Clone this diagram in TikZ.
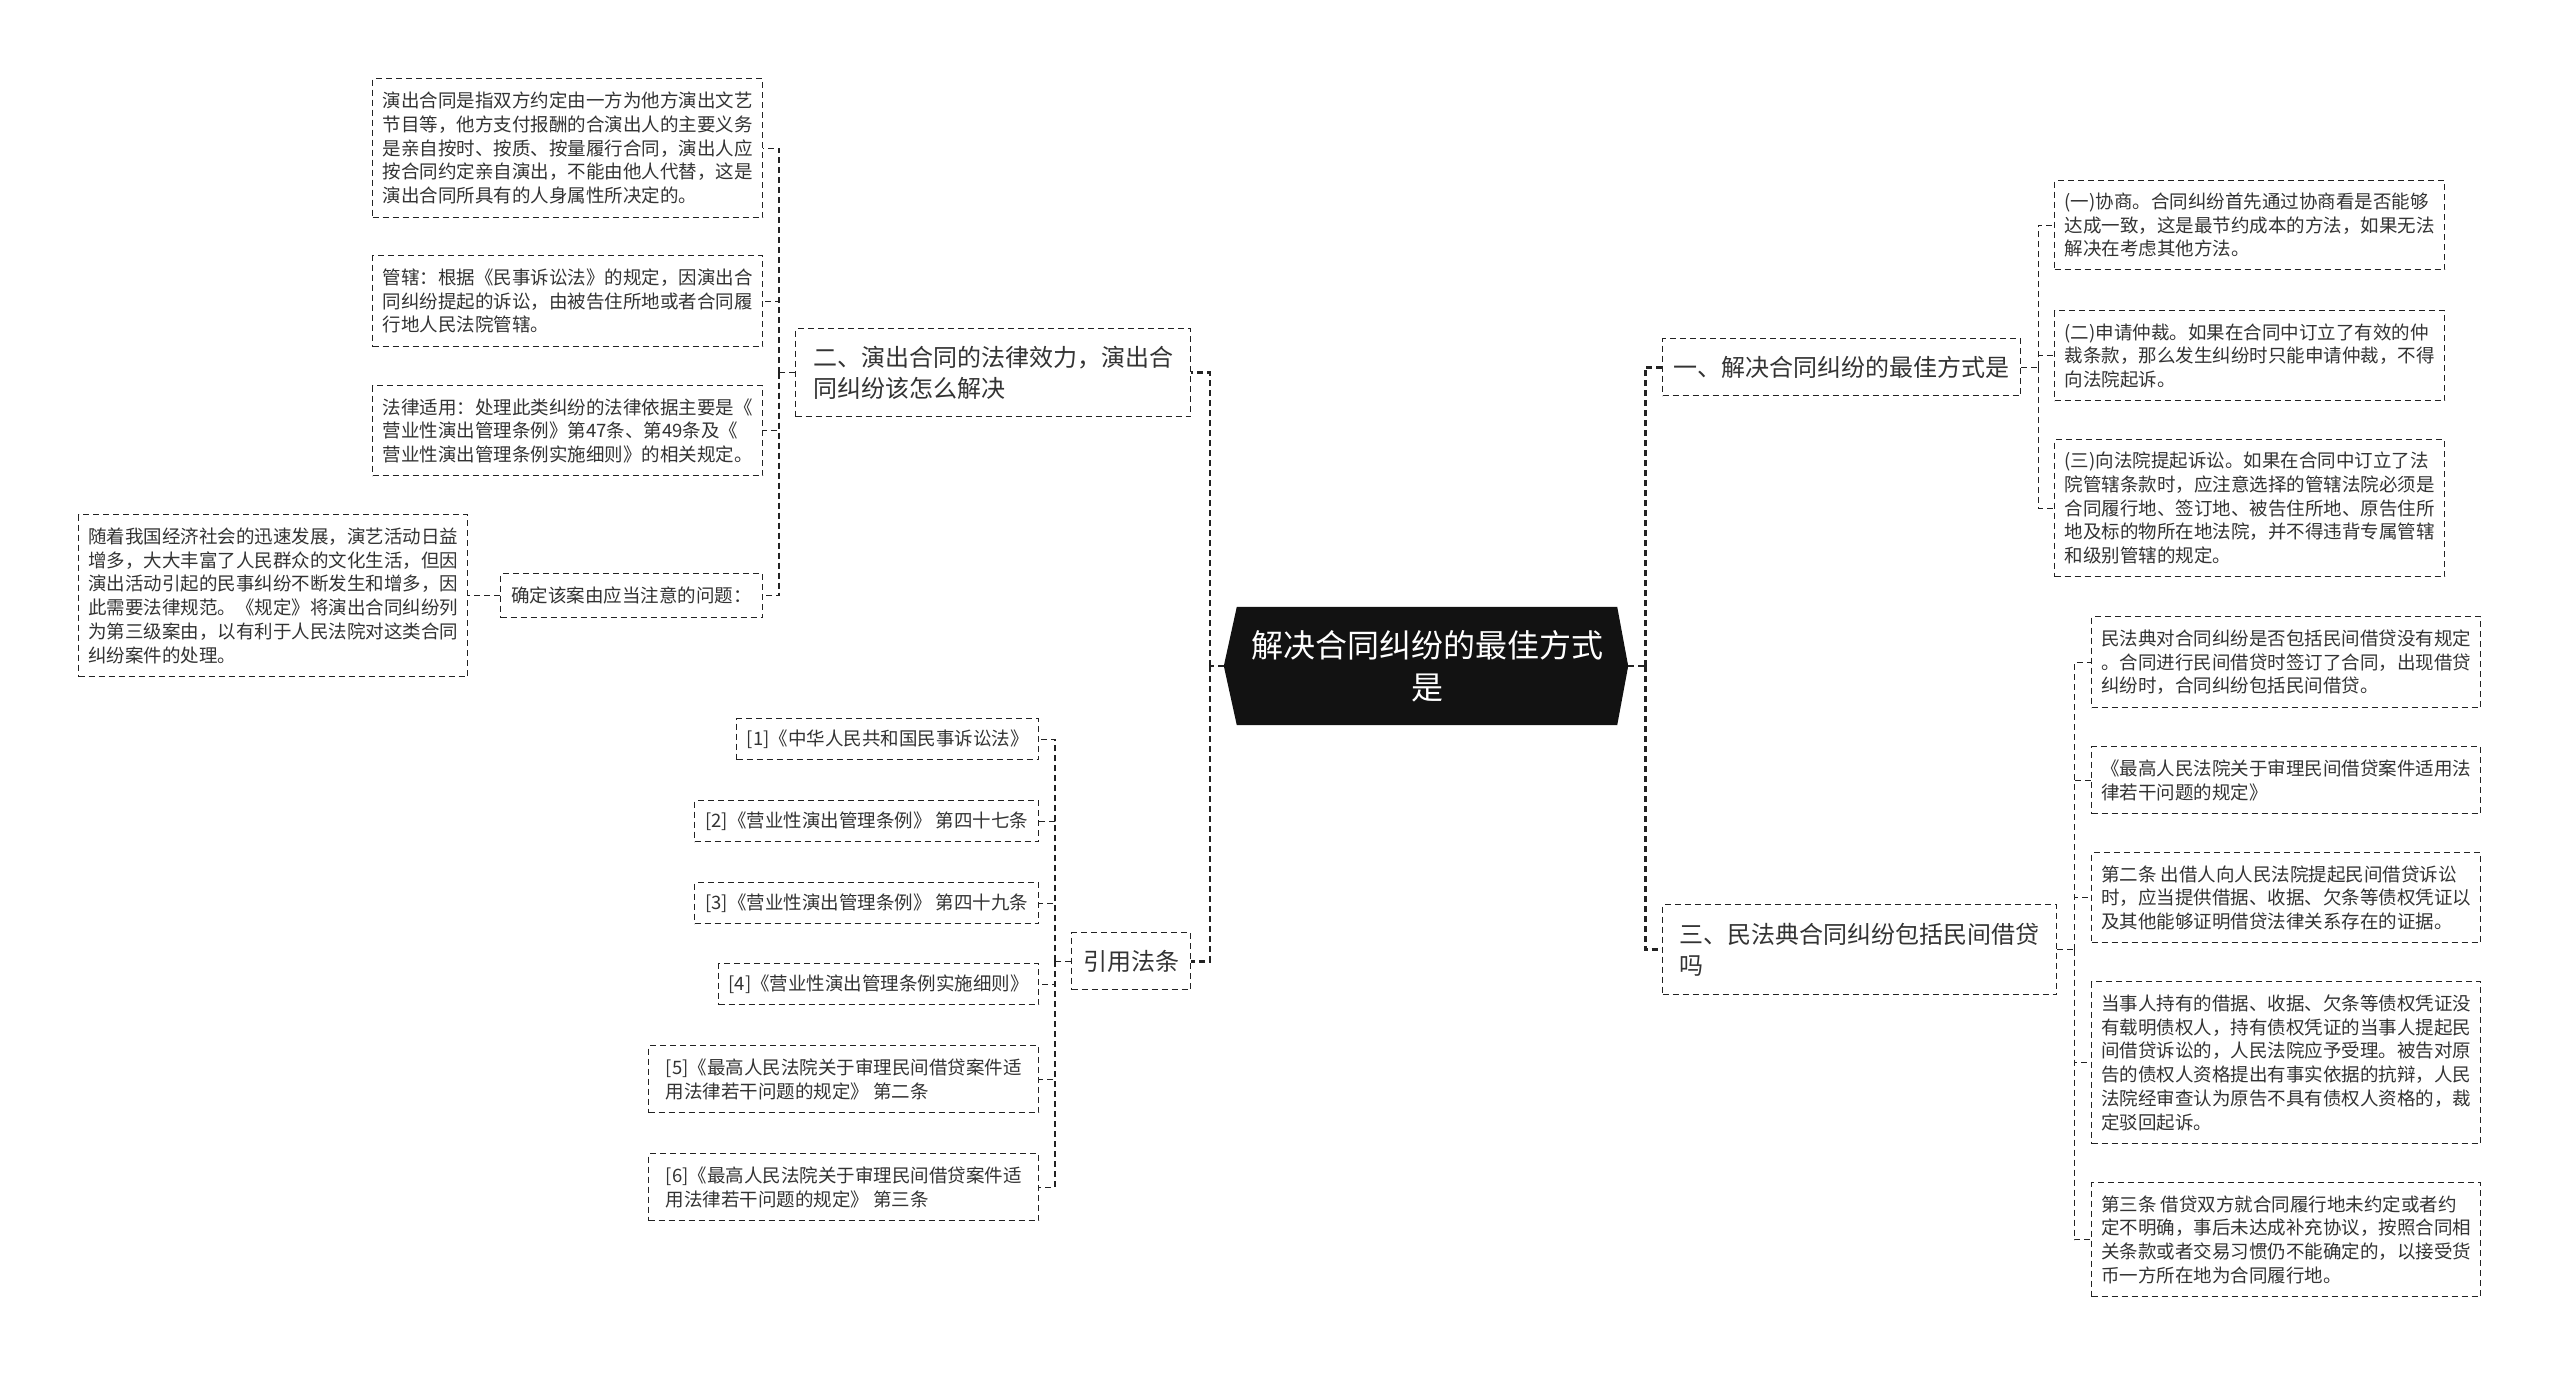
\documentclass[tikz,border=0pt]{standalone}
\usepackage{fontspec}
\setmainfont{Noto Sans CJK SC}
\usetikzlibrary{calc,backgrounds}
\definecolor{txt}{HTML}{333333}
\definecolor{ln}{HTML}{222222}
\begin{document}
\begin{tikzpicture}[x=1pt,y=-1pt,
  bx/.style={draw=ln, line width=1.4pt, dash pattern=on 6pt off 4pt, anchor=north west, inner sep=0pt, align=left, text=txt},
  leaf/.style={bx, font=\fontsize{18.5}{23.7}\selectfont},
  lvl/.style={bx, font=\fontsize{24}{31}\selectfont},
  conn/.style={draw=ln, line width=1.4pt, dash pattern=on 6pt off 4pt},
  spine/.style={draw=ln, line width=2.6pt, dash pattern=on 6pt off 4pt}]
\useasboundingbox (0,0) rectangle (2560,1377);

% centre
\node[font=\fontsize{32}{42}\selectfont, text=white, align=center, minimum width=380pt, minimum height=118pt, inner sep=0pt] (c) at (1427,666) {解决合同纠纷的最佳方式\\是};
\coordinate (cW) at ($(c.west)+(-13,0)$);
\coordinate (cE) at ($(c.east)+(11,0)$);
\begin{scope}[on background layer]
\fill[white] (0,0) rectangle (2560,1377);
\fill[black!93] (c.north west) -- (c.north east) -- (cE) -- (c.south east) -- (c.south west) -- (cW) -- cycle;
\end{scope}

% left branch 二
\node[lvl, minimum width=395pt, minimum height=88pt] (b) at (795,328) {二、演出合同的法律效力，演出合\\同纠纷该怎么解决};
\node[leaf, minimum width=390pt, minimum height=139pt] (a1) at (372,78) {演出合同是指双方约定由一方为他方演出文艺\\节目等，他方支付报酬的合演出人的主要义务\\是亲自按时、按质、按量履行合同，演出人应\\按合同约定亲自演出，不能由他人代替，这是\\演出合同所具有的人身属性所决定的。};
\node[leaf, minimum width=390pt, minimum height=91pt] (a2) at (372,255) {管辖：根据《民事诉讼法》的规定，因演出合\\同纠纷提起的诉讼，由被告住所地或者合同履\\行地人民法院管辖。};
\node[leaf, minimum width=390pt, minimum height=90pt] (a3) at (372,385) {法律适用：处理此类纠纷的法律依据主要是《\\营业性演出管理条例》第47条、第49条及《\\营业性演出管理条例实施细则》的相关规定。};
\node[leaf, minimum width=262pt, minimum height=44pt] (a4) at (500,573) {确定该案由应当注意的问题：};
\node[leaf, minimum width=389pt, minimum height=162pt] (a5) at (78,514) {随着我国经济社会的迅速发展，演艺活动日益\\增多，大大丰富了人民群众的文化生活，但因\\演出活动引起的民事纠纷不断发生和增多，因\\此需要法律规范。《规定》将演出合同纠纷列\\为第三级案由，以有利于人民法院对这类合同\\纠纷案件的处理。};

% left branch 引用法条
\node[lvl, minimum width=119pt, minimum height=57pt, align=center] (cite) at (1071,932) {引用法条};
\node[leaf, minimum width=302pt, minimum height=41pt] (c1) at (736,718) {[1]《中华人民共和国民事诉讼法》};
\node[leaf, minimum width=344pt, minimum height=41pt] (c2) at (694,800) {[2]《营业性演出管理条例》 第四十七条};
\node[leaf, minimum width=344pt, minimum height=41pt] (c3) at (694,882) {[3]《营业性演出管理条例》 第四十九条};
\node[leaf, minimum width=320pt, minimum height=41pt] (c4) at (718,963) {[4]《营业性演出管理条例实施细则》};
\node[leaf, minimum width=390pt, minimum height=67pt] (c5) at (648,1045) {[5]《最高人民法院关于审理民间借贷案件适\\用法律若干问题的规定》 第二条};
\node[leaf, minimum width=390pt, minimum height=67pt] (c6) at (648,1153) {[6]《最高人民法院关于审理民间借贷案件适\\用法律若干问题的规定》 第三条};

% right branch 一
\node[lvl, minimum width=358pt, minimum height=57pt] (one) at (1662,338) {一、解决合同纠纷的最佳方式是};
\node[leaf, minimum width=390pt, minimum height=89pt] (r1) at (2054,180) {(一)协商。合同纠纷首先通过协商看是否能够\\达成一致，这是最节约成本的方法，如果无法\\解决在考虑其他方法。};
\node[leaf, minimum width=390pt, minimum height=90pt] (r2) at (2054,310) {(二)申请仲裁。如果在合同中订立了有效的仲\\裁条款，那么发生纠纷时只能申请仲裁，不得\\向法院起诉。};
\node[leaf, minimum width=390pt, minimum height=137pt] (r3) at (2054,439) {(三)向法院提起诉讼。如果在合同中订立了法\\院管辖条款时，应注意选择的管辖法院必须是\\合同履行地、签订地、被告住所地、原告住所\\地及标的物所在地法院，并不得违背专属管辖\\和级别管辖的规定。};

% right branch 三
\node[lvl, minimum width=394pt, minimum height=90pt] (three) at (1662,904) {三、民法典合同纠纷包括民间借贷\\吗};
\node[leaf, minimum width=389pt, minimum height=91pt] (s1) at (2091,616) {民法典对合同纠纷是否包括民间借贷没有规定\\。合同进行民间借贷时签订了合同，出现借贷\\纠纷时，合同纠纷包括民间借贷。};
\node[leaf, minimum width=389pt, minimum height=67pt] (s2) at (2091,746) {《最高人民法院关于审理民间借贷案件适用法\\律若干问题的规定》};
\node[leaf, minimum width=389pt, minimum height=90pt] (s3) at (2091,852) {第二条 出借人向人民法院提起民间借贷诉讼\\时，应当提供借据、收据、欠条等债权凭证以\\及其他能够证明借贷法律关系存在的证据。};
\node[leaf, minimum width=389pt, minimum height=162pt] (s4) at (2091,981) {当事人持有的借据、收据、欠条等债权凭证没\\有载明债权人，持有债权凭证的当事人提起民\\间借贷诉讼的，人民法院应予受理。被告对原\\告的债权人资格提出有事实依据的抗辩，人民\\法院经审查认为原告不具有债权人资格的，裁\\定驳回起诉。};
\node[leaf, minimum width=389pt, minimum height=114pt] (s5) at (2091,1182) {第三条 借贷双方就合同履行地未约定或者约\\定不明确，事后未达成补充协议，按照合同相\\关条款或者交易习惯仍不能确定的，以接受货\\币一方所在地为合同履行地。};

% main spines
\coordinate (lj) at ($(cW)+(-14,0)$);
\coordinate (rj) at ($(cE)+(17,0)$);
\draw[spine] (cW) -- (lj);
\draw[spine] (lj) |- (b.east);
\draw[spine] (lj) |- (cite.east);
\draw[spine] (cE) -- (rj);
\draw[spine] (rj) |- (one.west);
\draw[spine] (rj) |- (three.west);

% sub connectors
\coordinate (bj) at ($(b.west)+(-16,0)$);
\draw[conn] (b.west) -- (bj);
\foreach \n in {a1,a2,a3,a4} \draw[conn] (bj) |- (\n.east);
\draw[conn] (a4.west) -- (a5.east);

\coordinate (cj) at ($(cite.west)+(-16,0)$);
\draw[conn] (cite.west) -- (cj);
\foreach \n in {c1,c2,c3,c4,c5,c6} \draw[conn] (cj) |- (\n.east);

\coordinate (oj) at ($(one.east)+(17,0)$);
\draw[conn] (one.east) -- (oj);
\foreach \n in {r1,r2,r3} \draw[conn] (oj) |- (\n.west);

\coordinate (tj) at ($(three.east)+(17,0)$);
\draw[conn] (three.east) -- (tj);
\foreach \n in {s1,s2,s3,s4,s5} \draw[conn] (tj) |- (\n.west);
\end{tikzpicture}
\end{document}
